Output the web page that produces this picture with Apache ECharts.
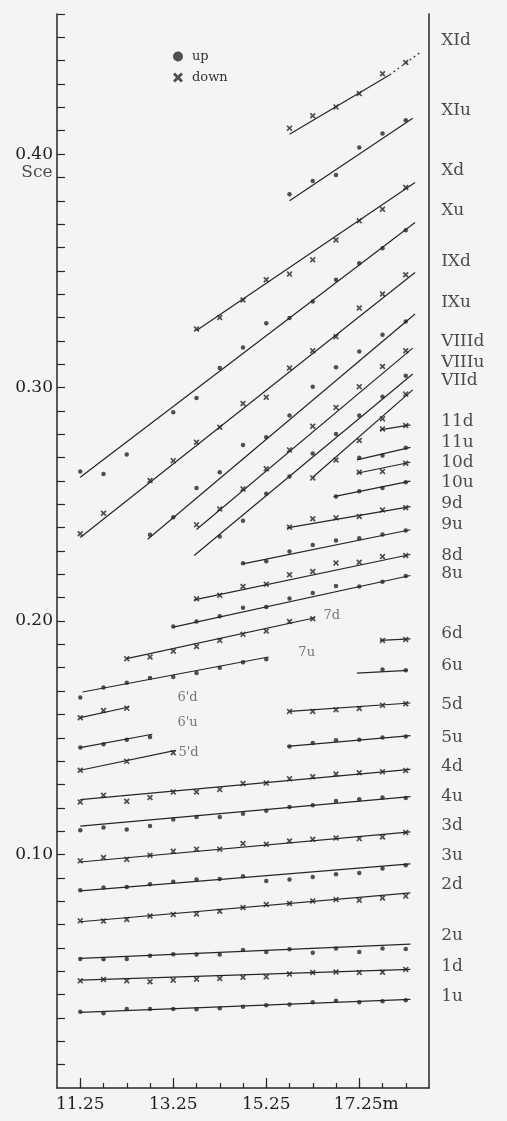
<!DOCTYPE html>
<html>
<head>
<meta charset="utf-8">
<title>Sce vs m</title>
<script src="https://cdn.jsdelivr.net/npm/echarts@6/dist/echarts.min.js"></script>
<style>
  html, body { margin: 0; padding: 0; background: #f4f4f2; }
  #chart { width: 507px; height: 1121px; }
</style>
</head>
<body>
<div id="chart"></div>
<script type="text/javascript">
// x positions of the readings (m), every 0.5
var xs = [11.25, 11.75, 12.25, 12.75, 13.25, 13.75, 14.25, 14.75, 15.25, 15.75, 16.25, 16.75, 17.25, 17.75, 18.25];
var xMajor = [11.25, 13.25, 15.25, 17.25];
var yMajor = [0.10, 0.20, 0.30, 0.40];

// points (first x given in the table below), null = no mark
var p1u = [0.0327, 0.0320, 0.0338, 0.0338, 0.0338, 0.0337, 0.0342, 0.0348, 0.0354, 0.0358, 0.0367, 0.0374, 0.0367, 0.0372, 0.0376];
var p1d = [0.0459, 0.0465, 0.0459, 0.0455, 0.0462, 0.0466, 0.0469, 0.0474, 0.0476, 0.0488, 0.0495, 0.0497, 0.0495, 0.0496, 0.0508];
var p2u = [0.0552, 0.0551, 0.0552, 0.0566, 0.0573, 0.0572, 0.0572, 0.0591, 0.0583, 0.0594, 0.0579, 0.0598, 0.0583, 0.0598, 0.0595];
var p2d = [0.0716, 0.0715, 0.0722, 0.0737, 0.0743, 0.0745, 0.0757, 0.0773, 0.0786, 0.0790, 0.0801, 0.0807, 0.0804, 0.0814, 0.0822];
var p3u = [0.0847, 0.0859, 0.0861, 0.0873, 0.0883, 0.0893, 0.0895, 0.0907, 0.0887, 0.0893, 0.0904, 0.0916, 0.0921, 0.0940, 0.0954];
var p3d = [0.0973, 0.0987, 0.0979, 0.0997, 0.1014, 0.1023, 0.1023, 0.1047, 0.1044, 0.1058, 0.1065, 0.1071, 0.1068, 0.1075, 0.1094];
var p4u = [0.1104, 0.1116, 0.1107, 0.1122, 0.1150, 0.1161, 0.1161, 0.1175, 0.1187, 0.1204, 0.1211, 0.1229, 0.1237, 0.1244, 0.1242];
var p4d = [0.1225, 0.1254, 0.1228, 0.1244, 0.1268, 0.1268, 0.1278, 0.1304, 0.1306, 0.1325, 0.1333, 0.1345, 0.1350, 0.1355, 0.1360];
var p5dd = [0.1361, null, 0.1399, null, 0.1436];
var p6uu = [0.1458, 0.1472, 0.1492, 0.1503];
var p6dd = [0.1586, 0.1617, 0.1627];
var p5u = [0.1463, 0.1478, 0.1489, 0.1492, 0.1501, 0.1506];
var p5d = [0.1613, 0.1613, 0.1620, 0.1625, 0.1639, 0.1646];
var p6u = [0.1792, 0.1789];
var p6d = [0.1917, 0.1921];
var p7u = [0.1672, 0.1715, 0.1736, 0.1756, 0.1760, 0.1777, 0.1800, 0.1824, 0.1836];
var p7d = [0.1839, 0.1846, 0.1871, 0.1891, 0.1917, 0.1943, 0.1957, 0.1998, 0.2010];
var p8u = [0.1977, 0.1998, 0.2020, 0.2057, 0.2060, 0.2097, 0.2120, 0.2150, 0.2148, 0.2168, 0.2193];
var p8d = [0.2095, 0.2110, 0.2148, 0.2158, 0.2198, 0.2212, 0.2249, 0.2252, 0.2276, 0.2281];
var p9u = [0.2248, 0.2256, 0.2298, 0.2326, 0.2345, 0.2355, 0.2371, 0.2388];
var p9d = [0.2402, 0.2438, 0.2442, 0.2448, 0.2476, 0.2485];
var p10u = [0.2533, 0.2556, 0.2570, 0.2594];
var p10d = [0.2637, 0.2641, 0.2676];
var p11u = [0.2699, 0.2709, 0.2742];
var p11d = [0.2823, 0.2837];
var pVIId = [0.2613, 0.2690, 0.2773, 0.2866, 0.2972];
var pVIIIu = [0.2362, 0.2430, 0.2545, 0.2619, 0.2718, 0.2801, 0.2880, 0.2961, 0.3051];
var pVIIId = [0.2412, 0.2480, 0.2566, 0.2652, 0.2733, 0.2834, 0.2915, 0.3004, 0.3090, 0.3158];
var pIXu = [0.2370, 0.2445, 0.2570, 0.2637, 0.2754, 0.2787, 0.2880, 0.3004, 0.3087, 0.3155, 0.3226, 0.3283];
var pIXd = [0.2374, 0.2462, null, 0.2602, 0.2687, 0.2766, 0.2830, 0.2932, 0.2958, 0.3084, 0.3158, 0.3218, 0.3341, 0.3401, 0.3483];
var pXu = [0.2641, 0.2630, 0.2713, null, 0.2894, 0.2955, 0.3084, 0.3172, 0.3275, 0.3298, 0.3369, 0.3462, 0.3532, 0.3597, 0.3674];
var pXd = [0.3251, 0.3300, 0.3375, 0.3462, 0.3486, 0.3547, 0.3632, 0.3714, 0.3764, 0.3857];
var pXIu = [0.3828, 0.3885, 0.3910, 0.4028, 0.4088, 0.4145];
var pXId = [0.4111, 0.4164, 0.4202, 0.4259, 0.4344, 0.4392];

// fitted straight lines: [x0, y0, x1, y1]
var f1u = [11.25, 0.0324, 18.35, 0.0380];
var f1d = [11.25, 0.0462, 18.35, 0.0508];
var f2u = [11.25, 0.0555, 18.35, 0.0616];
var f2d = [11.25, 0.0712, 18.35, 0.0836];
var f3u = [11.25, 0.0844, 18.35, 0.0960];
var f3d = [11.25, 0.0968, 18.35, 0.1097];
var f4u = [11.25, 0.1122, 18.35, 0.1248];
var f4d = [11.25, 0.1235, 18.35, 0.1365];
var f5dd = [11.25, 0.1361, 13.3, 0.1446];
var f6uu = [11.25, 0.1458, 12.8, 0.1515];
var f6dd = [11.25, 0.1586, 12.3, 0.1632];
var f5u = [15.7, 0.1463, 18.35, 0.1509];
var f5d = [15.75, 0.1613, 18.35, 0.1649];
var f6u = [17.2, 0.1777, 18.3, 0.1789];
var f6d = [17.7, 0.1917, 18.35, 0.1924];
var f7u = [11.3, 0.1696, 15.3, 0.1846];
var f7d = [12.25, 0.1839, 16.3, 0.2014];
var f8u = [13.25, 0.1974, 18.35, 0.2195];
var f8d = [13.7, 0.2091, 18.35, 0.2285];
var f9u = [14.75, 0.2245, 18.35, 0.2391];
var f9d = [15.7, 0.2399, 18.35, 0.2490];
var f10u = [16.7, 0.2533, 18.35, 0.2599];
var f10d = [17.2, 0.2633, 18.35, 0.2680];
var f11u = [17.2, 0.2690, 18.35, 0.2744];
var f11d = [17.7, 0.2819, 18.35, 0.2840];
var fVIId = [16.25, 0.2616, 18.4, 0.2990];
var fVIIIu = [13.7, 0.2281, 18.4, 0.3058];
var fVIIId = [13.75, 0.2392, 18.4, 0.3169];
var fIXu = [12.7, 0.2350, 18.45, 0.3315];
var fIXd = [11.25, 0.2358, 18.45, 0.3493];
var fXu = [11.25, 0.2616, 18.45, 0.3707];
var fXd = [13.75, 0.3244, 18.45, 0.3878];
var fXIu = [15.75, 0.3800, 18.4, 0.4154];
var fXId = [15.75, 0.4085, 17.9, 0.4339];
var fXIdExt = [17.9, 0.4339, 18.55, 0.4434];

// series labels on the right
var rightLabels = ['XId', 'XIu', 'Xd', 'Xu', 'IXd', 'IXu', 'VIIId', 'VIIIu', 'VIId', '11d', '11u', '10d', '10u', '9d', '9u', '8d', '8u', '6d', '6u', '5d', '5u', '4d', '4u', '3d', '3u', '2d', '2u', '1d', '1u'];
var rightLabelY = [0.4486, 0.4187, 0.3930, 0.3759, 0.3540, 0.3362, 0.3199, 0.3108, 0.3030, 0.2853, 0.2765, 0.2678, 0.2593, 0.2502, 0.2414, 0.2282, 0.2203, 0.1945, 0.1808, 0.1644, 0.1503, 0.1375, 0.1250, 0.1125, 0.0994, 0.0870, 0.0651, 0.0519, 0.0390];

// small labels inside the plot
var innerLabels = ['7d', '7u', "6'd", "6'u", "5'd"];
var innerLabelX = [16.47, 15.93, 13.33, 13.33, 13.35];
var innerLabelY = [0.2025, 0.1865, 0.1672, 0.1564, 0.1435];

var CROSS = 'path://M0,2L2,0L5,3L8,0L10,2L7,5L10,8L8,10L5,7L2,10L0,8L3,5Z';
var INK = '#262626';
var FONT = 'DejaVu Serif';

// label, kind (u = up / dot, d = down / cross), first x, points, fit
var table = [
  ['1u', 'u', 11.25, p1u, f1u], ['1d', 'd', 11.25, p1d, f1d],
  ['2u', 'u', 11.25, p2u, f2u], ['2d', 'd', 11.25, p2d, f2d],
  ['3u', 'u', 11.25, p3u, f3u], ['3d', 'd', 11.25, p3d, f3d],
  ['4u', 'u', 11.25, p4u, f4u], ['4d', 'd', 11.25, p4d, f4d],
  ["5'd", 'd', 11.25, p5dd, f5dd], ["6'u", 'u', 11.25, p6uu, f6uu], ["6'd", 'd', 11.25, p6dd, f6dd],
  ['5u', 'u', 15.75, p5u, f5u], ['5d', 'd', 15.75, p5d, f5d],
  ['6u', 'u', 17.75, p6u, f6u], ['6d', 'd', 17.75, p6d, f6d],
  ['7u', 'u', 11.25, p7u, f7u], ['7d', 'd', 12.25, p7d, f7d],
  ['8u', 'u', 13.25, p8u, f8u], ['8d', 'd', 13.75, p8d, f8d],
  ['9u', 'u', 14.75, p9u, f9u], ['9d', 'd', 15.75, p9d, f9d],
  ['10u', 'u', 16.75, p10u, f10u], ['10d', 'd', 17.25, p10d, f10d],
  ['11u', 'u', 17.25, p11u, f11u], ['11d', 'd', 17.75, p11d, f11d],
  ['VIId', 'd', 16.25, pVIId, fVIId], ['VIIIu', 'u', 14.25, pVIIIu, fVIIIu],
  ['VIIId', 'd', 13.75, pVIIId, fVIIId], ['IXu', 'u', 12.75, pIXu, fIXu],
  ['IXd', 'd', 11.25, pIXd, fIXd], ['Xu', 'u', 11.25, pXu, fXu],
  ['Xd', 'd', 13.75, pXd, fXd], ['XIu', 'u', 15.75, pXIu, fXIu],
  ['XId', 'd', 15.75, pXId, fXId]
];

var series = [];
table.forEach(function (row) {
  var f = row[4];
  series.push({
    name: 'fit ' + row[0],
    type: 'line',
    data: [[f[0], f[1]], [f[2], f[3]]],
    symbol: 'none',
    silent: true,
    lineStyle: { color: INK, width: 1.2 },
    z: 2
  });
  var pts = [];
  row[3].forEach(function (v, i) {
    if (v !== null) pts.push([row[2] + i * 0.5, v]);
  });
  var up = row[1] === 'u';
  series.push({
    name: up ? 'up' : 'down',
    type: 'scatter',
    data: pts,
    symbol: up ? 'circle' : CROSS,
    symbolSize: up ? 4.5 : 6,
    itemStyle: { color: INK },
    silent: true,
    z: 3
  });
});

series.push({
  name: 'fit XId dotted',
  type: 'line',
  data: [[fXIdExt[0], fXIdExt[1]], [fXIdExt[2], fXIdExt[3]]],
  symbol: 'none',
  silent: true,
  lineStyle: { color: INK, width: 1.1, type: [2, 3] },
  z: 2
});

// right hand labels
series.push({
  name: 'right labels',
  type: 'scatter',
  clip: false,
  silent: true,
  symbolSize: 1,
  itemStyle: { color: 'rgba(0,0,0,0)' },
  data: rightLabels.map(function (t, i) { return { value: [19.0, rightLabelY[i]], name: t }; }),
  label: {
    show: true, position: 'right', distance: 0,
    formatter: '{b}', color: '#1e1e1e', fontFamily: FONT, fontSize: 17
  }
});

// inline labels
series.push({
  name: 'inner labels',
  type: 'scatter',
  clip: false,
  silent: true,
  symbolSize: 1,
  itemStyle: { color: 'rgba(0,0,0,0)' },
  data: innerLabels.map(function (t, i) { return { value: [innerLabelX[i], innerLabelY[i]], name: t }; }),
  label: {
    show: true, position: 'right', distance: 0,
    formatter: '{b}', color: '#555', fontFamily: FONT, fontSize: 13
  }
});

// axis title "Sce" under 0.40
series.push({
  name: 'y title',
  type: 'scatter',
  clip: false,
  silent: true,
  symbolSize: 1,
  itemStyle: { color: 'rgba(0,0,0,0)' },
  data: [{ value: [10.75, 0.3922], name: 'Sce' }],
  label: {
    show: true, position: 'left', distance: 4,
    formatter: '{b}', color: '#1e1e1e', fontFamily: FONT, fontSize: 17
  }
});

var yMinor = [];
for (var k = 1; k <= 46; k++) yMinor.push(k / 100);

var chart = echarts.init(document.getElementById('chart'));
var option = {
  backgroundColor: '#f4f4f2',
  animation: false,
  grid: { left: 57, right: 78, top: 14, bottom: 33 },
  legend: {
    orient: 'vertical',
    left: 168,
    top: 45,
    itemWidth: 10,
    itemHeight: 10,
    itemGap: 8,
    selectedMode: false,
    textStyle: { fontFamily: FONT, fontSize: 13, color: '#333', padding: [0, 0, 0, 4] },
    data: [{ name: 'up', icon: 'circle' }, { name: 'down', icon: CROSS }]
  },
  xAxis: [{
    type: 'value',
    min: 10.75,
    max: 18.75,
    position: 'bottom',
    splitLine: { show: false },
    axisLine: { lineStyle: { color: INK, width: 1.5 } },
    axisTick: { inside: true, length: 5, customValues: xs, lineStyle: { color: INK, width: 1.2 } },
    axisLabel: {
      customValues: xMajor,
      margin: 8,
      color: '#1e1e1e',
      fontFamily: FONT,
      fontSize: 17,
      formatter: function (v) {
        return v === 17.25 ? '{m|17.25m}' : v.toFixed(2);
      },
      rich: { m: { fontFamily: FONT, fontSize: 17, color: '#1e1e1e', padding: [0, 0, 0, 14] } }
    }
  }, {
    type: 'value',
    min: 10.75,
    max: 18.75,
    position: 'bottom',
    splitLine: { show: false },
    axisLine: { show: false },
    axisTick: { inside: true, length: 10, customValues: xMajor, lineStyle: { color: INK, width: 1.2 } },
    axisLabel: { show: false }
  }],
  yAxis: [{
    type: 'value',
    min: 0,
    max: 0.46,
    position: 'left',
    splitLine: { show: false },
    axisLine: { show: true, lineStyle: { color: INK, width: 1.5 } },
    axisTick: { inside: true, length: 8, customValues: yMinor, lineStyle: { color: INK, width: 1.2 } },
    axisLabel: {
      customValues: yMajor,
      margin: 4,
      color: '#1e1e1e',
      fontFamily: FONT,
      fontSize: 17,
      formatter: function (v) { return v.toFixed(2); }
    }
  }, {
    type: 'value',
    min: 0,
    max: 0.46,
    position: 'right',
    splitLine: { show: false },
    axisLine: { show: true, lineStyle: { color: INK, width: 1.5 } },
    axisTick: { show: false },
    axisLabel: { show: false }
  }],
  series: series
};
chart.setOption(option);
</script>
</body>
</html>
